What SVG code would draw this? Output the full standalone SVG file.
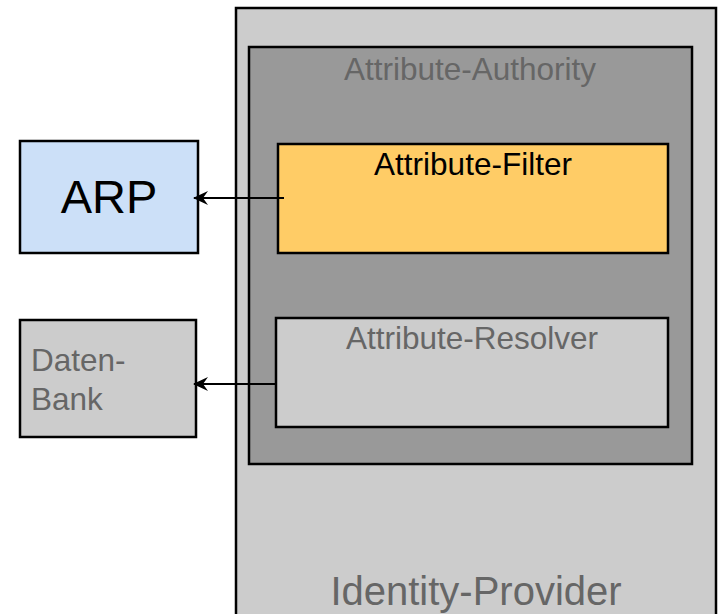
<svg xmlns="http://www.w3.org/2000/svg" width="719" height="614" viewBox="0 0 719 614">
  <style>
    .box { stroke: #000; stroke-width: 2.5; }
    .lbl { font-family: "Liberation Sans", Arial, sans-serif; }
    .grey { fill: #666; }
    .conn { stroke: #000; stroke-width: 2; fill: none; }
  </style>
  <defs>
    <marker id="head" viewBox="0 0 15 14" refX="14" refY="7" markerWidth="15" markerHeight="14" markerUnits="userSpaceOnUse" orient="auto">
      <path d="M15,7 L0,0 L5,7 L0,14 Z" fill="#000"/>
    </marker>
  </defs>

  <g id="identity-provider">
    <rect class="box" x="236" y="8" width="480" height="620" fill="#cccccc"/>
    <text class="lbl grey" x="476" y="605" font-size="40" text-anchor="middle">Identity-Provider</text>
  </g>

  <g id="attribute-authority">
    <rect class="box" x="249" y="47" width="443" height="417" fill="#999999"/>
    <text class="lbl grey" x="470" y="80" font-size="31.5" text-anchor="middle">Attribute-Authority</text>
  </g>

  <g id="attribute-filter">
    <rect class="box" x="278" y="144" width="390" height="109" fill="#ffcc66"/>
    <text class="lbl" x="473" y="175" font-size="31.5" text-anchor="middle" fill="#000">Attribute-Filter</text>
  </g>

  <g id="attribute-resolver">
    <rect class="box" x="276" y="318" width="392" height="109" fill="#cccccc"/>
    <text class="lbl grey" x="472" y="349" font-size="31.5" text-anchor="middle">Attribute-Resolver</text>
  </g>

  <g id="arp">
    <rect class="box" x="20" y="141" width="178" height="112" fill="#cce0f8"/>
    <text class="lbl" x="109" y="213" font-size="47" text-anchor="middle" fill="#000">ARP</text>
  </g>

  <g id="datenbank">
    <rect class="box" x="20" y="320" width="176" height="117" fill="#cccccc"/>
    <text class="lbl grey" x="31" y="371" font-size="31.5">Daten-</text>
    <text class="lbl grey" x="31" y="410" font-size="31.5">Bank</text>
  </g>

  <g id="connectors">
    <line class="conn" x1="284" y1="198" x2="194" y2="198" marker-end="url(#head)"/>
    <line class="conn" x1="276" y1="384" x2="194" y2="384" marker-end="url(#head)"/>
  </g>
</svg>
